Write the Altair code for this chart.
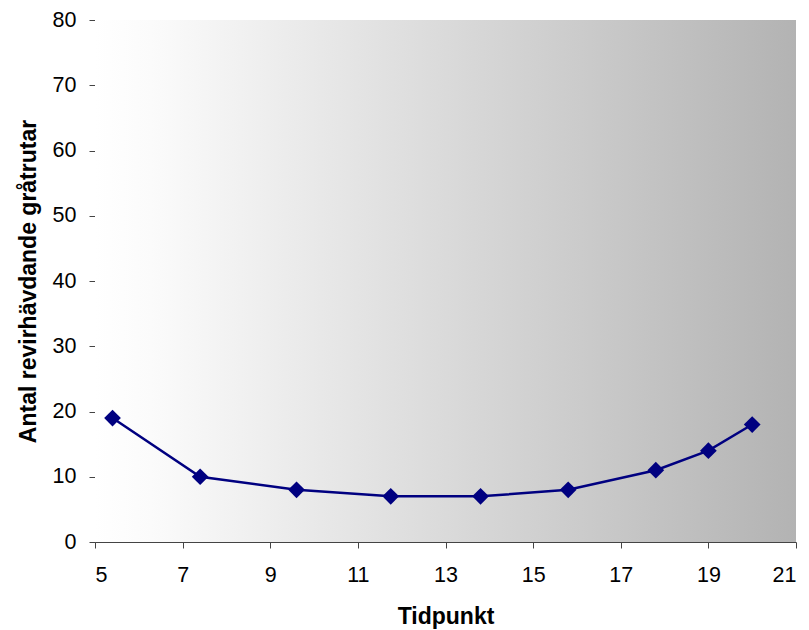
import altair as alt
import pandas as pd

tidpunkt = [5.4, 7.4, 9.6, 11.75, 13.8, 15.8, 17.8, 19, 20]
antal = [19, 10, 8, 7, 7, 8, 11, 14, 18]
x_ticks = [5, 7, 9, 11, 13, 15, 17, 19, 21]
y_ticks = [0, 10, 20, 30, 40, 50, 60, 70, 80]

df = pd.DataFrame({"Tidpunkt": tidpunkt, "Antal": antal})

W, H = 701, 522
FONT = "Liberation Sans"

bg = alt.Chart(pd.DataFrame({"a": [0]})).mark_rect(
    fill=alt.Gradient(
        gradient="linear", x1=0, x2=1, y1=0, y2=0,
        stops=[alt.GradientStop(color="#ffffff", offset=0),
               alt.GradientStop(color="#fbfbfb", offset=0.08),
               alt.GradientStop(color="#b3b3b3", offset=1)],
    )
).encode(x=alt.value(0), x2=alt.value(W), y=alt.value(0), y2=alt.value(H))

xenc = alt.X("Tidpunkt:Q", scale=alt.Scale(domain=[5, 21], nice=False, zero=False),
             axis=alt.Axis(values=x_ticks, title="Tidpunkt", grid=False))
yenc = alt.Y("Antal:Q", scale=alt.Scale(domain=[0, 80], nice=False),
             axis=alt.Axis(values=y_ticks, title="Antal revirhävdande gråtrutar", grid=False))

line = alt.Chart(df).mark_line(color="#000080", strokeWidth=2.5).encode(x=xenc, y=yenc)
pts = alt.Chart(df).mark_point(shape="diamond", filled=True, color="#000080",
                               size=280, opacity=1).encode(x=xenc, y=yenc)

chart = alt.layer(bg, line, pts).properties(
    width=W, height=H,
    autosize=alt.AutoSizeParams(type="none"),
    padding={"left": 95, "top": 20, "right": 13, "bottom": 88},
).configure_view(stroke=None).configure_axis(
    labelFont=FONT, titleFont=FONT, labelFontSize=21.5, titleFontSize=23,
    labelColor="#000000", titleColor="#000000",
    domainColor="#444444", tickColor="#444444", tickSize=6,
    labelFontWeight="normal", titleFontWeight="bold",
).configure_axisX(
    labelPadding=16, titlePadding=20,
).configure_axisY(
    labelPadding=13, titlePadding=12,
)

chart.save("out.html", embed_options={"renderer": "svg", "actions": False})
